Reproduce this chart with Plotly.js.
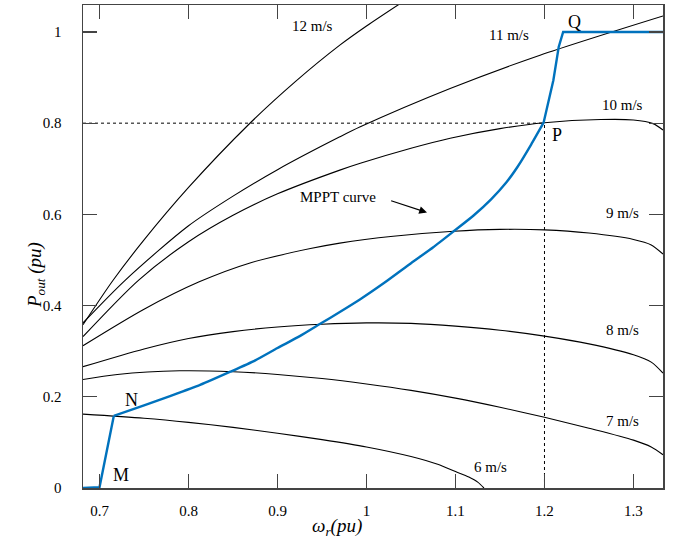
<!DOCTYPE html>
<html>
<head>
<meta charset="utf-8">
<script src="https://cdn.plot.ly/plotly-3.0.1.min.js"></script>
<style>html,body{margin:0;padding:0;background:#fff;}#chart{width:683px;height:557px;}</style>
</head>
<body>
<div id="chart"></div>
<script>
// Wind power curves P_out (pu) vs rotor speed (pu)
const w6  = [0.6814,0.75,0.8,0.85,0.9,0.95,1.0,1.05,1.08,1.1,1.115,1.125,1.132];
const p6  = [0.162,0.153,0.144,0.133,0.120,0.106,0.090,0.069,0.052,0.036,0.024,0.013,0.0];
const w7  = [0.6814,0.72,0.79,0.85,0.9,0.95,1.0,1.05,1.1,1.15,1.2,1.25,1.3,1.32,1.3332];
const p7  = [0.238,0.249,0.257,0.255,0.249,0.240,0.228,0.214,0.197,0.177,0.155,0.131,0.105,0.090,0.073];
const w8  = [0.6814,0.75,0.8,0.85,0.9,0.95,1.0,1.05,1.1,1.15,1.2,1.25,1.3,1.32,1.3332];
const p8  = [0.266,0.305,0.328,0.343,0.353,0.359,0.362,0.361,0.355,0.346,0.333,0.316,0.292,0.276,0.252];
const w9  = [0.6814,0.75,0.812,0.87,0.937,0.97,1.03,1.098,1.15,1.2,1.25,1.3,1.32,1.3332];
const p9  = [0.312,0.392,0.452,0.494,0.525,0.537,0.552,0.563,0.567,0.566,0.559,0.545,0.533,0.513];
const w10 = [0.6814,0.744,0.8,0.85,0.9,0.97,0.993,1.05,1.094,1.15,1.2,1.263,1.3,1.322,1.3332];
const p10 = [0.332,0.456,0.540,0.598,0.645,0.697,0.712,0.745,0.767,0.788,0.801,0.808,0.807,0.799,0.785];
const w11 = [0.6814,0.729,0.8,0.85,0.9,0.97,0.993,1.094,1.195,1.3332];
const p11 = [0.362,0.456,0.575,0.640,0.698,0.770,0.792,0.876,0.949,1.035];
const w12 = [0.6814,0.715,0.75,0.8,0.867,0.92,0.97,1.0,1.04];
const p12 = [0.358,0.455,0.544,0.659,0.796,0.891,0.971,1.013,1.065];
// MPPT trajectory M-N-P-Q
const wMpptA = [0.6814,0.700,0.716];
const pMpptA = [0.0,0.002,0.158];
const wMpptB = [0.716,0.75,0.78,0.813,0.847,0.875,0.9,0.925,0.948,0.97,0.993,1.02,1.05,1.075,1.098,1.12,1.14,1.1575,1.17,1.185,1.199];
const pMpptB = [0.158,0.181,0.202,0.226,0.255,0.280,0.307,0.333,0.360,0.386,0.414,0.450,0.493,0.528,0.563,0.597,0.633,0.671,0.705,0.753,0.801];
const wMpptC = [1.199,1.205,1.210,1.216,1.221,1.3332];
const pMpptC = [0.801,0.850,0.894,0.967,1.0,1.0];
// reference point P
const refW = 1.2, refP = 0.8;
const xRange = [0.6814,1.3332], yRange = [0,1.0591];
const xTicks = [0.7,0.8,0.9,1,1.1,1.2,1.3];
const xTickText = ['0.7','0.8','0.9','1','1.1','1.2','1.3'];
const yTicks = [0,0.2,0.4,0.6,0.8,1];
const yTickText = ['0','0.2','0.4','0.6','0.8','1'];
const speedLabels = ['6 m/s','7 m/s','8 m/s','9 m/s','10 m/s','11 m/s','12 m/s'];
const speedLabelX = [1.1396,1.288,1.288,1.288,1.288,1.160,0.939];
const speedLabelY = [0.047,0.146,0.347,0.603,0.839,0.993,1.0125];
const pointLabels = ['M','N','P','Q'];
const pointLabelX = [0.724,0.736,1.214,1.234];
const pointLabelY = [0.029,0.193,0.774,1.022];

const serif = 'Liberation Serif, Times New Roman, serif';
const curveLine = {color:'#000', width:1.1, shape:'spline', smoothing:0.8};
const curves = [[w6,p6],[w7,p7],[w8,p8],[w9,p9],[w10,p10],[w11,p11],[w12,p12]];
const traces = curves.map(c => ({x:c[0], y:c[1], mode:'lines', line:curveLine, hoverinfo:'skip'}));
traces.push({x:[xRange[0],refW], y:[refP,refP], mode:'lines', line:{color:'#000',width:1,dash:'dot'}});
traces.push({x:[refW,refW], y:[0,refP], mode:'lines', line:{color:'#000',width:1,dash:'dot'}});
const blue = '#0072BD';
traces.push({x:wMpptA, y:pMpptA, mode:'lines', line:{color:blue,width:2.4}});
traces.push({x:wMpptB, y:pMpptB, mode:'lines', line:{color:blue,width:2.4,shape:'spline',smoothing:0.6}});
traces.push({x:wMpptC, y:pMpptC, mode:'lines', line:{color:blue,width:2.4}});

const annotations = [];
speedLabels.forEach((t,i)=>annotations.push({x:speedLabelX[i], y:speedLabelY[i], text:t, showarrow:false, font:{family:serif,size:15,color:'#000'}}));
pointLabels.forEach((t,i)=>annotations.push({x:pointLabelX[i], y:pointLabelY[i], text:t, showarrow:false, font:{family:serif,size:18,color:'#000'}}));
annotations.push({x:0.968, y:0.638, text:'MPPT curve', showarrow:false, font:{family:serif,size:15,color:'#000'}});
annotations.push({x:1.068, y:0.604, ax:1.026, ay:0.631, axref:'x', ayref:'y', text:'', showarrow:true, arrowhead:2, arrowsize:1.3, arrowwidth:1.2, arrowcolor:'#000'});
annotations.push({xref:'paper', yref:'paper', x:-0.105, y:0.441, textangle:-90, showarrow:false,
  text:'<i>P</i><sub><i>out</i></sub> <i>(pu)</i>', font:{family:serif,size:19,color:'#000'}});
annotations.push({xref:'paper', yref:'paper', x:0.438, y:-0.109, showarrow:false,
  text:'<i>ω</i><sub><i>r</i></sub><i>(pu)</i>', font:{family:serif,size:19,color:'#000'}});

const axisCommon = {showgrid:false, zeroline:false, showline:true, linecolor:'#444', linewidth:1.5, mirror:'ticks',
  ticks:'inside', ticklen:14, tickwidth:1.3, tickcolor:'#444', tickfont:{family:serif,size:15,color:'#000'}};
const layout = {
  width:683, height:557, margin:{l:83,r:20,t:5,b:69},
  paper_bgcolor:'#fff', plot_bgcolor:'#fff', showlegend:false,
  xaxis:Object.assign({}, axisCommon, {range:xRange, tickvals:xTicks, ticktext:xTickText, ticklabelstandoff:8}),
  yaxis:Object.assign({}, axisCommon, {range:yRange, tickvals:yTicks, ticktext:yTickText, ticklabelstandoff:17}),
  annotations:annotations
};
Plotly.newPlot('chart', traces, layout, {staticPlot:true, displayModeBar:false});
</script>
</body>
</html>
